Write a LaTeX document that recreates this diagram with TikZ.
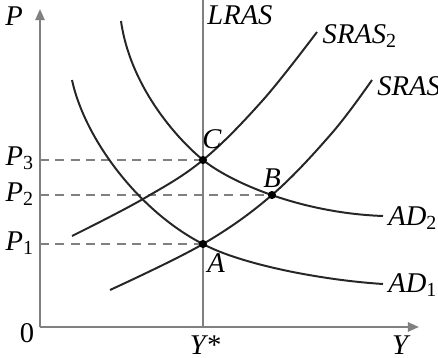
\documentclass[tikz,border=0pt]{standalone}
\usepackage{fontspec}
\setmainfont{Liberation Serif}
\usepackage{tikz}
\usetikzlibrary{arrows.meta}
\tikzset{
  axis/.style={draw=gray, line width=0.9pt, -{Triangle[length=1.8mm,width=1.5mm]}},
  lras/.style={draw=gray, line width=0.9pt},
  curve/.style={draw=black!85, line width=0.9pt},
  guide/.style={draw=gray, dashed, dash pattern=on 4pt off 3pt, line width=0.6pt},
  eqdot/.style={circle, fill=black, inner sep=0pt, minimum size=1.3mm},
  lbl/.style={font=\fontsize{13}{15}\selectfont\itshape, inner sep=0pt},
}

\begin{document}
\begin{tikzpicture}[x=0.016cm, y=-0.016cm]
\useasboundingbox (0,0) rectangle (438,358);
% axes and long run supply
\coordinate (O) at (40,327);
\coordinate (ytop) at (40,9);
\coordinate (xend) at (419,327);
\coordinate (ltop) at (203,0);
\coordinate (lbot) at (203,327);
\draw[axis] (O) -- (ytop);
\draw[axis] (O) -- (xend);
\draw[lras] (ltop) -- (lbot);
% equilibria
\coordinate (C) at (203,160);
\coordinate (B) at (272,195);
\coordinate (A) at (203,244);
\coordinate (p3) at (40,160);
\coordinate (p2) at (40,195);
\coordinate (p1) at (40,244);
\foreach \p/\e in {p3/C, p2/B, p1/A}
  \draw[guide] (\p) -- (\e);
% curves
\draw[curve] (72,80) .. controls (85,140) and (140,212) .. (A)
  .. controls (240,264) and (320,280) .. (383,284);
\draw[curve] (121,21) .. controls (130,85) and (175,137) .. (C)
  .. controls (230,182) and (300,213) .. (383,216);
\draw[curve] plot[smooth, tension=0.6] coordinates {(110,290) (A) (B) (332,133) (372,80)};
\draw[curve] plot[smooth, tension=0.6] coordinates {(72,236) (143,199) (C) (263,100) (317,32)};
\foreach \e in {A, B, C}
  \node[eqdot] at (\e) {};
% labels
\node[lbl] (lP) at (14,16) {P};
\node[lbl] (lY) at (400,345) {Y};
\node[lbl, font=\fontsize{13}{15}\selectfont] (l0) at (27,333) {0};
\node[lbl] (lYs) at (205,345) {Y*};
\node[lbl] (lLRAS) at (240,15) {LRAS};
\node[lbl] (lSRAS2) at (360,36) {SRAS\textsubscript{\upshape 2}};
\node[lbl, anchor=west] (lSRAS) at (377,86) {SRAS};
\node[lbl] (lAD2) at (413,218) {AD\textsubscript{\upshape 2}};
\node[lbl] (lAD1) at (413,285) {AD\textsubscript{\upshape 1}};
\node[lbl] (lP3) at (20,158) {P\textsubscript{\upshape 3}};
\node[lbl] (lP2) at (20,194) {P\textsubscript{\upshape 2}};
\node[lbl] (lP1) at (20,243) {P\textsubscript{\upshape 1}};
\node[lbl] (lC) at (212,139) {C};
\node[lbl] (lB) at (272,178) {B};
\node[lbl] (lA) at (216,263) {A};
\end{tikzpicture}
\end{document}
